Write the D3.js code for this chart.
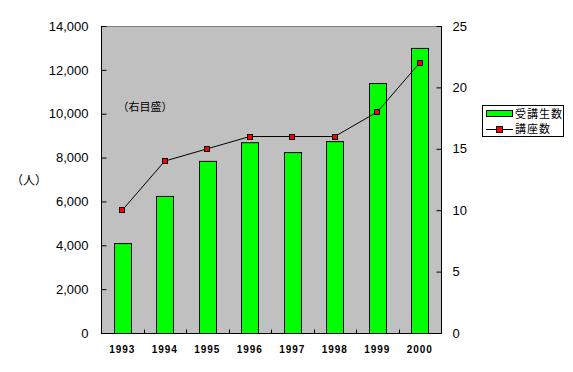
<!DOCTYPE html>
<html><head><meta charset="utf-8">
<script src="https://cdn.jsdelivr.net/npm/d3@7"></script>
<style>body{margin:0;background:#fff}svg{display:block}</style>
</head><body>
<svg id="c" width="573" height="372"></svg>
<script>
const years = ["1993","1994","1995","1996","1997","1998","1999","2000"];
const students = [4100, 6250, 7850, 8700, 8250, 8750, 11400, 13000];
const courses = [10, 14, 15, 16, 16, 16, 18, 22];
const leftTicks = [0,2000,4000,6000,8000,10000,12000,14000];
const rightTicks = [0,5,10,15,20,25];
const seriesNames = ["受講生数","講座数"];
const unitLabel = "（人）";
const noteLabel = "（右目盛）";

const svg = d3.select("#c");
const L=101,R=441,T=26,B=333;
const xb = d3.scaleBand().domain(years).range([L,R]);
const yL = d3.scaleLinear().domain([0,14000]).range([B,T]);
const yR = d3.scaleLinear().domain([0,25]).range([B,T]);
const jp = "'Noto Sans CJK JP', sans-serif";
const num = "'Liberation Sans', Arial, sans-serif";

svg.append("rect").attr("x",L).attr("y",T).attr("width",R-L).attr("height",B-T).attr("fill","#c0c0c0");
svg.append("line").attr("x1",L).attr("x2",R).attr("y1",T+0.5).attr("y2",T+0.5).attr("stroke","#808080");

// bars
svg.selectAll("rect.bar").data(students).join("rect").attr("class","bar")
  .attr("x",(d,i)=>Math.round(xb(years[i])+xb.bandwidth()/2-8.5)+0.5)
  .attr("width",17)
  .attr("y",d=>yL(d)+0.5).attr("height",d=>B-yL(d))
  .attr("fill","#00ff00").attr("stroke","#000").attr("stroke-width",1);

// line
const line = d3.line().x((d,i)=>xb(years[i])+xb.bandwidth()/2).y(d=>yR(d));
svg.append("path").datum(courses).attr("d",line).attr("fill","none").attr("stroke","#000").attr("stroke-width",1);
svg.selectAll("rect.mk").data(courses).join("rect").attr("class","mk")
  .attr("x",(d,i)=>Math.round(xb(years[i])+xb.bandwidth()/2)-2.5).attr("y",d=>Math.round(yR(d))-2.5)
  .attr("width",5).attr("height",5).attr("fill","#ff0000").attr("stroke","#000").attr("stroke-width",1);

// axes
const gl = svg.append("g").attr("transform",`translate(${L+0.5},0)`)
  .call(d3.axisRight(yL).tickValues(leftTicks).tickSize(5).tickFormat(d3.format(",")));
gl.select(".domain").attr("d",`M0,${T}V${B}`).attr("stroke","#000");
gl.selectAll(".tick text").attr("x",-13).attr("text-anchor","end").attr("font-family",num).attr("font-size",13).attr("fill","#000");

const gr = svg.append("g").attr("transform",`translate(${R+0.5},0)`)
  .call(d3.axisLeft(yR).tickValues(rightTicks).tickSize(5));
gr.select(".domain").attr("d",`M0,${T}V${B}`).attr("stroke","#000");
gr.selectAll(".tick text").attr("x",11).attr("text-anchor","start").attr("font-family",num).attr("font-size",13).attr("fill","#000");

const gb = svg.append("g").attr("transform",`translate(0,${B+0.5})`);
gb.append("line").attr("x1",L).attr("x2",R+1).attr("stroke","#000");
gb.selectAll("line.t").data(years.slice(1)).join("line").attr("class","t")
  .attr("x1",d=>Math.round(xb(d))+0.5).attr("x2",d=>Math.round(xb(d))+0.5).attr("y1",0).attr("y2",-4).attr("stroke","#000");
gb.selectAll("text").data(years).join("text")
  .attr("x",d=>xb(d)+xb.bandwidth()/2).attr("y",19).attr("text-anchor","middle")
  .attr("font-family",num).attr("font-size",10).attr("font-weight","bold").attr("letter-spacing",1).text(d=>d);

svg.append("text").attr("x",29).attr("y",185).attr("text-anchor","middle").attr("font-family",jp).attr("font-size",12).text(unitLabel);
svg.append("text").attr("x",145).attr("y",111).attr("text-anchor","middle").attr("font-family",jp).attr("font-size",11).text(noteLabel);

// legend
const lg = svg.append("g");
lg.append("rect").attr("x",482.5).attr("y",105.5).attr("width",81).attr("height",31).attr("fill","#fff").attr("stroke","#000");
lg.append("rect").attr("x",486.5).attr("y",110.5).attr("width",26).attr("height",6).attr("fill","#00ff00").attr("stroke","#000");
lg.append("line").attr("x1",486).attr("x2",513).attr("y1",129.5).attr("y2",129.5).attr("stroke","#000");
lg.append("rect").attr("x",496.5).attr("y",126.5).attr("width",6).attr("height",6).attr("fill","#ff0000").attr("stroke","#000");
lg.selectAll("text").data(seriesNames).join("text").attr("x",515).attr("y",(d,i)=>118+i*15)
  .attr("font-family",jp).attr("font-size",11).attr("letter-spacing",1).text(d=>d);
</script>
</body></html>
